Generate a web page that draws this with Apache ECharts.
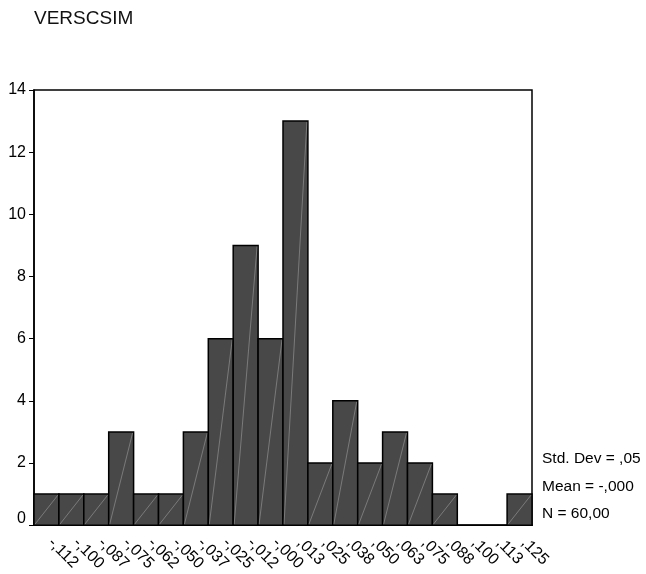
<!DOCTYPE html>
<html>
<head>
<meta charset="utf-8">
<script src="https://cdn.jsdelivr.net/npm/echarts@6/dist/echarts.min.js"></script>
<style>
  html, body { margin: 0; padding: 0; background: #fff; }
  #chart { width: 646px; height: 574px; }
</style>
</head>
<body>
<div id="chart"></div>
<script>
// Bin midpoints (comma decimal notation) and frequency per bin
const binLabels = ['-,112', '-,100', '-,087', '-,075', '-,062', '-,050', '-,037', '-,025', '-,012', '-,000',
                   ',013', ',025', ',038', ',050', ',063', ',075', ',088', ',100', ',113', ',125'];
const frequencies = [1, 1, 1, 3, 1, 1, 3, 6, 9, 6, 13, 2, 4, 2, 3, 2, 1, 0, 0, 1];
const yTicks = [0, 2, 4, 6, 8, 10, 12, 14];
const statLines = ['Std. Dev = ,05', 'Mean = -,000', 'N = 60,00'];

const FONT = "'Liberation Sans', Arial, Helvetica, sans-serif";
const chart = echarts.init(document.getElementById('chart'), null, { renderer: 'canvas' });

function renderBar(params, api) {
  const v = api.value(1);
  if (!v) return null;
  const top = api.coord([api.value(0), v]);
  const base = api.coord([api.value(0), 0]);
  const w = api.size([1, 0])[0];
  const x0 = top[0] - w / 2, x1 = top[0] + w / 2;
  return {
    type: 'group',
    children: [
      {
        type: 'rect',
        shape: { x: x0, y: top[1], width: w, height: base[1] - top[1] },
        style: { fill: '#484848', stroke: '#000', lineWidth: 1.5 }
      },
      {
        type: 'line',
        shape: { x1: x0 + 1, y1: base[1] - 1, x2: x1 - 1, y2: top[1] + 1 },
        style: { stroke: 'rgba(255,255,255,0.35)', lineWidth: 0.8 }
      }
    ]
  };
}

chart.setOption({
  animation: false,
  backgroundColor: '#fff',
  textStyle: { fontFamily: FONT },
  title: {
    text: 'VERSCSIM',
    left: 29, top: 4,
    textStyle: { fontFamily: FONT, fontSize: 19, fontWeight: 'normal', color: '#111' }
  },
  grid: {
    left: 34, right: 114, top: 90, bottom: 47,
    show: true, borderColor: '#000', borderWidth: 1.5, backgroundColor: '#fff'
  },
  xAxis: {
    type: 'category',
    data: binLabels,
    boundaryGap: true,
    axisLine: { lineStyle: { color: '#000', width: 1.5 } },
    axisTick: { alignWithLabel: true, length: 5, lineStyle: { color: '#000', width: 1 } },
    axisLabel: {
      interval: 0, rotate: -45, margin: 11, padding: [0, 0, 0, 6],
      fontFamily: FONT, fontSize: 16, color: '#000'
    },
    splitLine: { show: false }
  },
  yAxis: {
    type: 'value',
    min: yTicks[0], max: yTicks[yTicks.length - 1], interval: 2,
    axisLine: { show: true, lineStyle: { color: '#000', width: 1.5 } },
    axisTick: { show: true, length: 5, lineStyle: { color: '#000', width: 1 } },
    axisLabel: {
      margin: 8, fontFamily: FONT, fontSize: 16, color: '#000',
      formatter: v => (v === 0 ? '{z|0}' : String(v)),
      rich: { z: { fontFamily: FONT, fontSize: 16, color: '#000', padding: [0, 0, 14, 0] } }
    },
    splitLine: { show: false }
  },
  series: [{
    type: 'custom',
    renderItem: renderBar,
    encode: { x: 0, y: 1 },
    data: frequencies.map((f, i) => [i, f]),
    z: 3
  }],
  graphic: statLines.map((t, i) => ({
    type: 'text',
    left: 542, top: 451 + i * 27.5,
    style: { text: t, font: '15.5px ' + FONT, fill: '#000' }
  }))
});
</script>
</body>
</html>
